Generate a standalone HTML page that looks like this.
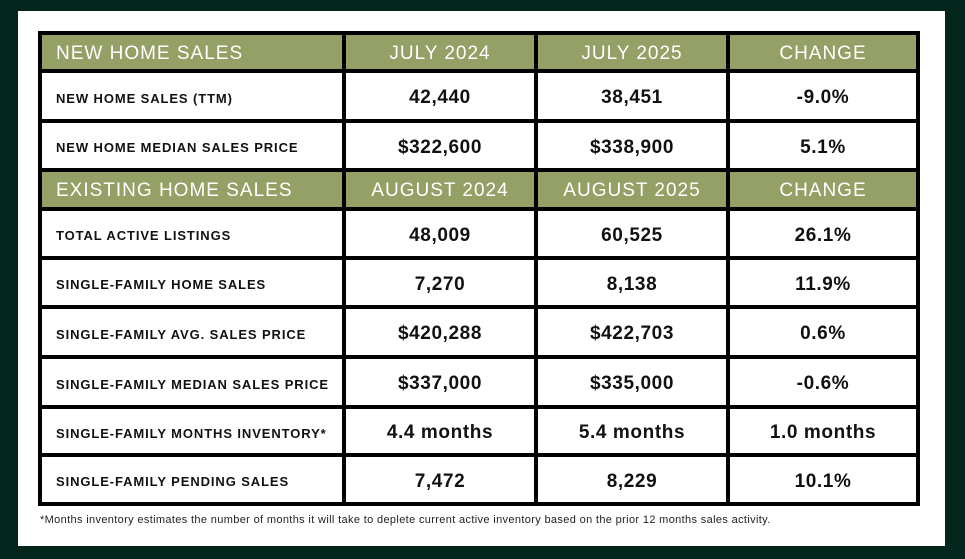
<!DOCTYPE html>
<html><head><style>
*{margin:0;padding:0;box-sizing:border-box}
body{width:965px;height:559px;background:#02261b;position:relative;overflow:hidden;font-family:"Liberation Sans",sans-serif}
#panel{position:absolute;left:18px;top:11px;width:927px;height:535px;background:#fff}
.hl{position:absolute;left:38px;width:882px;height:4px;background:#000}
.vl{position:absolute;top:31px;height:475px;width:4px;background:#000}
.hd{position:absolute;left:40px;width:878px;background:#95a066}
.t{position:absolute;display:flex;align-items:center;white-space:nowrap;padding-top:4px}
.h{color:#fff;font-size:19px;letter-spacing:1px}
.l{font-size:13px;font-weight:bold;color:#111;letter-spacing:0.9px}
.v{font-size:19px;font-weight:bold;color:#111;justify-content:center;letter-spacing:0.6px}
.foot{position:absolute;left:40px;top:514px;font-size:11px;color:#222;letter-spacing:0.35px}
</style></head><body>
<div id="panel"></div>
<div class="hd" style="top:33px;height:38px"></div>
<div class="hd" style="top:171px;height:38px"></div>
<div class="hl" style="top:31px"></div>
<div class="hl" style="top:69px"></div>
<div class="hl" style="top:119px"></div>
<div class="hl" style="top:168px"></div>
<div class="hl" style="top:207px"></div>
<div class="hl" style="top:256px"></div>
<div class="hl" style="top:305px"></div>
<div class="hl" style="top:355px"></div>
<div class="hl" style="top:405px"></div>
<div class="hl" style="top:453px"></div>
<div class="hl" style="top:502px"></div>
<div class="vl" style="left:38px"></div>
<div class="vl" style="left:342px"></div>
<div class="vl" style="left:534px"></div>
<div class="vl" style="left:726px"></div>
<div class="vl" style="left:916px"></div>
<div id="c"></div>
<script>
var rows=[[33,71,'h','NEW HOME SALES','JULY 2024','JULY 2025','CHANGE'],
[73,119,'d','NEW HOME SALES (TTM)','42,440','38,451','-9.0%'],
[123,168,'d','NEW HOME MEDIAN SALES PRICE','$322,600','$338,900','5.1%'],
[171,207,'h','EXISTING HOME SALES','AUGUST 2024','AUGUST 2025','CHANGE'],
[211,256,'d','TOTAL ACTIVE LISTINGS','48,009','60,525','26.1%'],
[260,305,'d','SINGLE-FAMILY HOME SALES','7,270','8,138','11.9%'],
[309,355,'d','SINGLE-FAMILY AVG. SALES PRICE','$420,288','$422,703','0.6%'],
[359,405,'d','SINGLE-FAMILY MEDIAN SALES PRICE','$337,000','$335,000','-0.6%'],
[409,453,'d','SINGLE-FAMILY MONTHS INVENTORY*','4.4 months','5.4 months','1.0 months'],
[457,502,'d','SINGLE-FAMILY PENDING SALES','7,472','8,229','10.1%']];
var cols=[[42,300],[346,188],[538,188],[730,186]];var h='';
rows.forEach(function(r){for(var i=0;i<4;i++){var cls=r[2]=='h'?'h':(i==0?'l':'v');
var js=(r[2]=='h'&&i>0)?'justify-content:center;':'';
var pad=i==0?'padding-left:14px;':'';
h+='<div class="t '+cls+'" style="left:'+cols[i][0]+'px;width:'+cols[i][1]+'px;top:'+r[0]+'px;height:'+(r[1]-r[0])+'px;'+js+pad+'">'+r[3+i]+'</div>';}});
document.getElementById('c').innerHTML=h;
</script>
<div class="foot">*Months inventory estimates the number of months it will take to deplete current active inventory based on the prior 12 months sales activity.</div>
</body></html>
